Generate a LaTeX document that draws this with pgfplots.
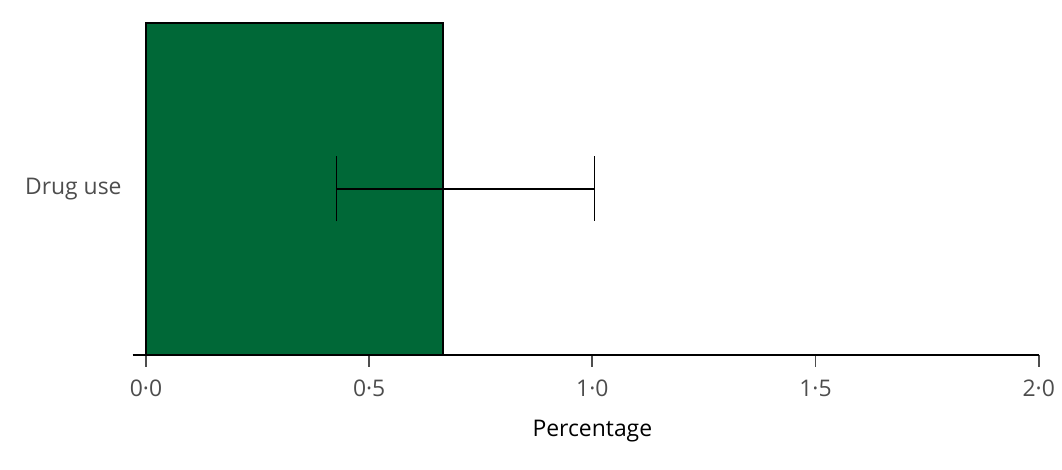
\documentclass[border=0pt]{standalone}
\usepackage{pgfplots}
\usepackage{pgfplotstable}
\pgfplotsset{compat=1.18}
\usepackage{fontspec}
\setmainfont{Open Sans}
\definecolor{bargreen}{RGB}{0,104,55}
\definecolor{ticklab}{RGB}{77,77,77}
\pgfplotstableread{
x y ep em
0.665 0 0.340 0.238
}\drugdata
\begin{document}
\begin{tikzpicture}
\begin{axis}[
  x=223.18bp, y=165.85bp,
  xmin=-0.03, xmax=2.0, ymin=-0.5, ymax=0.5,
  enlargelimits=false,
  axis x line*=bottom,
  axis y line=none,
  x axis line style={line width=1bp, black, -},
  xtick={0,0.5,1,1.5,2},
  xticklabels={0·0,0·5,1·0,1·5,2·0},
  tick align=outside,
  major tick length=6bp,
  xtick style={line width=0.9bp, color=ticklab},
  xticklabel style={font=\fontsize{11.5}{13}\selectfont, text=ticklab, yshift=-3bp},
  xlabel={Percentage},
  xlabel style={font=\fontsize{11.5}{13}\selectfont, text=black, at={(ticklabel cs:0.50739)}, anchor=near ticklabel, yshift=-5bp},
  clip=false,
  bar width=1,
]
\addplot[xbar, fill=bargreen, draw=black, line width=0.9bp]
  table[x=x, y=y] {\drugdata};
\addplot[draw=none, mark=none, forget plot,
  error bars/.cd, x dir=both, x explicit,
  error bar style={draw=black, line width=0.9bp},
  error mark=|,
  error mark options={draw=black, line width=0.9bp, mark size=16.25bp}]
  table[x=x, y=y, x error plus=ep, x error minus=em] {\drugdata};
\node[anchor=east, font=\fontsize{11.5}{13}\selectfont, text=ticklab] at (axis cs:-0.03,0) [xshift=-2bp] {Drug use};
\end{axis}
\pgfresetboundingbox
\path[use as bounding box] (-66.3bp,-57.65bp) rectangle (464.7bp,177.35bp);
\end{tikzpicture}
\end{document}
